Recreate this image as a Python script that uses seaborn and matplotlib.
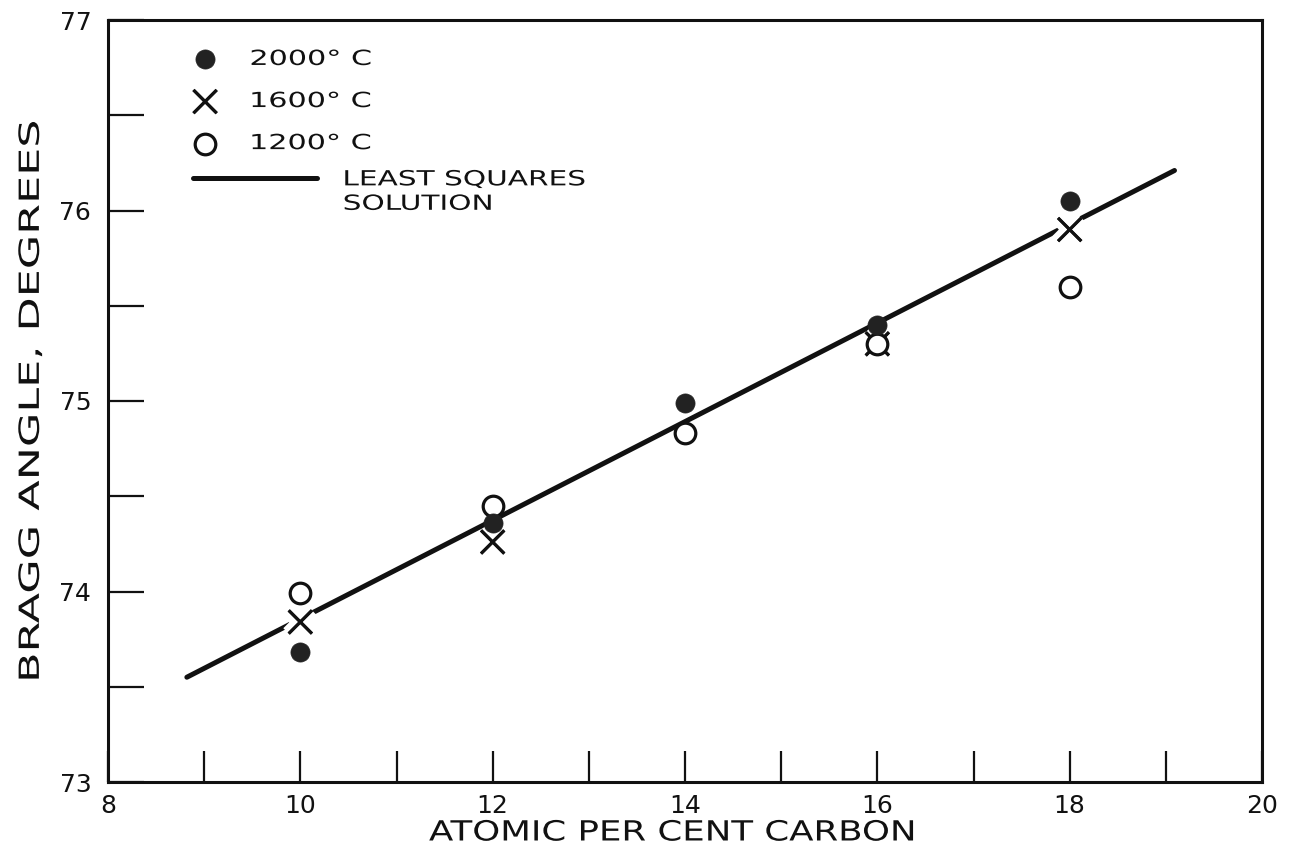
import matplotlib
matplotlib.use("Agg")
import matplotlib.pyplot as plt
import matplotlib.patheffects as pe
from matplotlib.transforms import Affine2D
from matplotlib.ticker import MultipleLocator
import seaborn as sns

# ---- data ----
x_2000 = [10, 12, 14, 16, 18]
y_2000 = [73.68, 74.36, 74.99, 75.40, 76.05]
x_1600 = [10, 12, 16, 18]
y_1600 = [73.84, 74.26, 75.30, 75.90]
x_1200 = [10, 12, 14, 16, 18]
y_1200 = [73.99, 74.45, 74.83, 75.30, 75.60]
fit_x = [8.82, 19.09]
fit_y = [73.55, 76.21]

labels = ["2000° C", "1600° C", "1200° C", "LEAST SQUARES"]
label_2 = "SOLUTION"
xlabel = "ATOMIC PER CENT CARBON"
ylabel = "BRAGG ANGLE, DEGREES"
xticks = [8, 10, 12, 14, 16, 18, 20]
yticks = [73, 74, 75, 76, 77]


class Stretch(pe.AbstractPathEffect):
    """Widen lettering (the reference uses widely spaced stencil lettering)."""

    def __init__(self, sx=1.0, sy=1.0, anchor="center"):
        super().__init__()
        self.sx, self.sy, self.anchor = sx, sy, anchor

    def draw_path(self, renderer, gc, tpath, affine, rgbFace=None):
        bb = tpath.get_extents(affine)
        cx = bb.x0 if self.anchor == "left" else (bb.x0 + bb.x1) / 2
        cy = (bb.y0 + bb.y1) / 2
        st = Affine2D().translate(-cx, -cy).scale(self.sx, self.sy).translate(cx, cy)
        renderer.draw_path(gc, tpath, affine + st, rgbFace)


sns.set_theme(style="ticks")
plt.rcParams["font.family"] = ["DejaVu Sans"]

fig = plt.figure(figsize=(13.02, 8.59), dpi=100)
ax = fig.add_axes([108 / 1302, 1 - 782 / 859, 1154 / 1302, 762 / 859])

ink = "#111111"

sns.lineplot(x=fit_x, y=fit_y, ax=ax, color=ink, linewidth=3.6,
             solid_capstyle="round", label=labels[3], zorder=2)

sns.scatterplot(x=x_1600, y=y_1600, ax=ax, marker="x", s=280, color=ink,
                linewidth=2.2, label=labels[1], zorder=3,
                path_effects=[pe.withStroke(linewidth=11, foreground="white"), pe.Normal()])
sns.scatterplot(x=x_1200, y=y_1200, ax=ax, marker="o", s=220,
                facecolor="white", edgecolor=ink, linewidth=2.3,
                label=labels[2], zorder=4)
sns.scatterplot(x=x_2000, y=y_2000, ax=ax, marker="o", s=190, color="#222222",
                edgecolor="#222222", linewidth=0.5, label=labels[0], zorder=5)

ax.set_xlim(8, 20)
ax.set_ylim(73, 77)
ax.set_xticks(xticks)
ax.set_yticks(yticks)
ax.xaxis.set_minor_locator(MultipleLocator(1))
ax.yaxis.set_minor_locator(MultipleLocator(0.5))
ax.tick_params(axis="x", which="both", direction="in", length=22, width=1.6,
               color=ink, pad=8.5, labelsize=18, labelcolor=ink)
ax.tick_params(axis="y", which="both", direction="in", length=26, width=1.6,
               color=ink, pad=12, labelsize=18, labelcolor=ink)
for sp in ax.spines.values():
    sp.set_visible(True)
    sp.set_linewidth(2.2)
    sp.set_color(ink)

xl = ax.set_xlabel(xlabel, fontsize=20, color=ink, labelpad=0.5)
xl.set_x(0.489)
yl = ax.set_ylabel(ylabel, fontsize=20, color=ink, labelpad=10.5)
xl.set_path_effects([Stretch(sx=1.28)])
yl.set_path_effects([Stretch(sy=1.6)])

# ---- legends ----
handles, labs = ax.get_legend_handles_labels()
hmap = dict(zip(labs, handles))
if ax.get_legend() is not None:
    ax.get_legend().remove()

fs_leg = 15
leg1 = ax.legend([hmap[l] for l in labels[:3]], labels[:3], loc="upper left",
                 bbox_to_anchor=(0.0751, 0.962), frameon=False, fontsize=fs_leg,
                 handlelength=1.0, handletextpad=1.66, labelspacing=1.06,
                 borderpad=0, borderaxespad=0)
for t in leg1.get_texts():
    t.set_color(ink)
    t.set_path_effects([Stretch(sx=1.45, anchor="left")])
ax.add_artist(leg1)

leg2 = ax.legend([hmap[labels[3]]], [labels[3]], loc="upper left",
                 bbox_to_anchor=(0.0737, 0.804), frameon=False, fontsize=fs_leg,
                 handlelength=5.96, handletextpad=1.25, borderpad=0,
                 borderaxespad=0)
for t in leg2.get_texts():
    t.set_color(ink)
    t.set_path_effects([Stretch(sx=1.42, anchor="left")])
sol = ax.annotate(label_2, xy=(0, 0), xycoords=leg2.get_texts()[0],
                  xytext=(0, -3.2), textcoords="offset points", va="top", ha="left",
                  fontsize=fs_leg, color=ink, zorder=10)
sol.set_path_effects([Stretch(sx=1.42, anchor="left")])

fig.savefig("out.png", dpi=100, facecolor="white")
